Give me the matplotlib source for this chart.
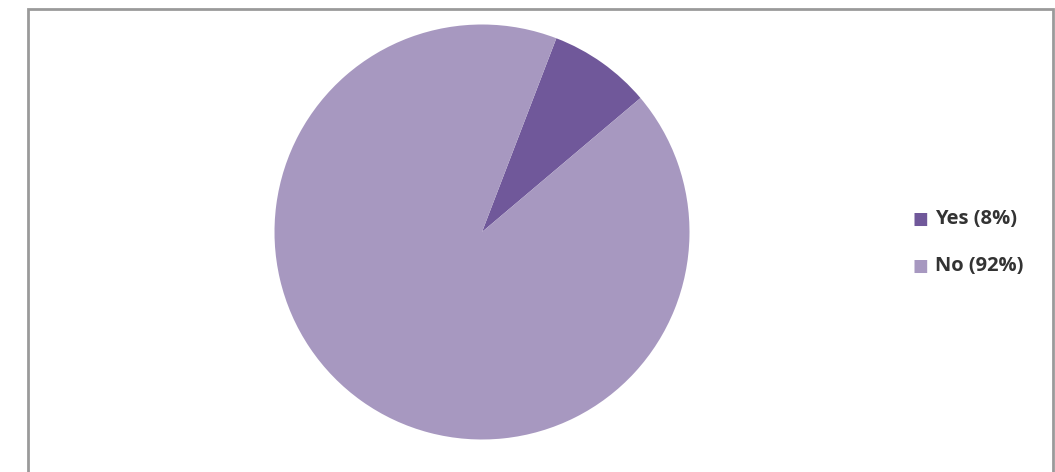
import matplotlib.pyplot as plt
from matplotlib.patches import Rectangle

labels = ['Yes (8%)', 'No (92%)']
shares = [8, 92]
colors = ['#70589a', '#a798c0']

W, H = 1055, 472
fig = plt.figure(figsize=(W / 100, H / 100), dpi=100)

# outer chart frame
fig.patches.append(Rectangle((28 / W, -0.05), 1025 / W, 1.05 - 9 / H,
                             transform=fig.transFigure, fill=False,
                             edgecolor='#9a9a9a', linewidth=2))

cx, cy, r = 482, 232, 207.5
ax = fig.add_axes([(cx - r) / W, (H - cy - r) / H, 2 * r / W, 2 * r / H])
wedges, _ = ax.pie(shares, colors=colors, startangle=69, counterclock=False,
                   radius=1, wedgeprops=dict(linewidth=0))
ax.set_xlim(-1, 1)
ax.set_ylim(-1, 1)
ax.set_aspect('equal')

for i, (lab, col) in enumerate(zip(labels, colors)):
    y = 1 - (219 + 47 * i) / H
    fig.text(913 / W, y, '\u25a0', color=col, fontsize=12, va='center',
             family='DejaVu Sans')
    fig.text(935 / W, y, lab, color='#333333', fontsize=14.5, va='center',
             family='Open Sans', fontweight='bold')

fig.savefig('out.png', dpi=100)
